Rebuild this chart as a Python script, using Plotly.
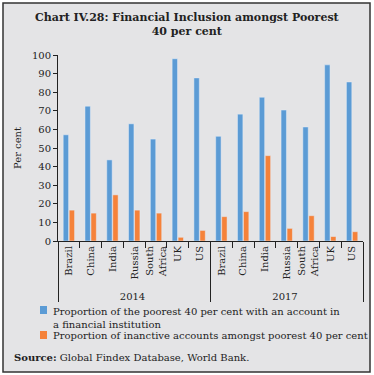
import plotly.graph_objects as go

years = ["2014"] * 7 + ["2017"] * 7
countries = ["Brazil", "China", "India", "Russia", "South<br>Africa", "UK", "US"] * 2
account = [57.1, 72.5, 43.6, 63.0, 54.8, 98.0, 87.7,
           56.3, 68.2, 77.3, 70.4, 61.3, 94.7, 85.5]
inactive = [16.6, 15.0, 24.8, 16.6, 15.0, 2.0, 5.7,
            13.1, 15.8, 45.9, 6.8, 13.6, 2.4, 5.0]
series_names = ["Proportion of the poorest 40 per cent with an account in<br>a financial institution",
                "Proportion of inanctive accounts amongst poorest 40 per cent"]
y_ticks = list(range(0, 101, 10))

BLUE = "#5B9BD5"
ORANGE = "#F5823A"
BG = "#E4E4E6"
FONT = "DejaVu Serif"
TXT = "#222222"

fig = go.Figure()
fig.add_trace(go.Bar(x=[years, countries], y=account, name=series_names[0],
                     marker_color=BLUE, showlegend=False))
fig.add_trace(go.Bar(x=[years, countries], y=inactive, name=series_names[1],
                     marker_color=ORANGE, showlegend=False))

W, H = 374, 375
L, R, T, B = 58, 11, 55, 134
pw, ph = W - L - R, H - T - B

def px(xp):
    return (xp - L) / pw

def py(yp):
    return (H - B - yp) / ph

fig.update_layout(
    width=W, height=H,
    margin=dict(l=L, r=R, t=T, b=B, autoexpand=False),
    paper_bgcolor="white",
    plot_bgcolor="rgba(0,0,0,0)",
    barmode="group", bargap=0.45, bargroupgap=0.1,
    font=dict(family=FONT, size=10, color=TXT),
    showlegend=False,
    xaxis=dict(type="multicategory", tickangle=-90, showline=True, linecolor="#222", linewidth=1,
               ticks="outside", ticklen=6, tickcolor="#222", showdividers=True,
               dividercolor="#222", dividerwidth=1, automargin=False,
               tickfont=dict(size=10, family=FONT, color=TXT)),
    yaxis=dict(range=[0, 100], tickvals=y_ticks, showline=True, linecolor="#222", linewidth=1,
               ticks="outside", ticklen=4, tickcolor="#222", showgrid=False, zeroline=False,
               automargin=False,
               tickfont=dict(size=10, family=FONT, color=TXT),
               title=dict(text="Per cent", font=dict(size=10, family=FONT, color=TXT), standoff=8)),
)

fig.add_shape(type="rect", xref="paper", yref="paper",
              x0=px(3), x1=px(370), y0=py(372), y1=py(3),
              fillcolor=BG, line=dict(color="#333", width=1.5), layer="below")

# legend (custom, to match small square keys)
legend_rows = [(306, 314, 317.5, BLUE), (331, 339, 335.5, ORANGE)]
for (y0, y1, yt, col), name in zip(legend_rows, series_names):
    fig.add_shape(type="rect", xref="paper", yref="paper",
                  x0=px(40), x1=px(47), y0=py(y1), y1=py(y0),
                  fillcolor=col, line=dict(width=0))
    fig.add_annotation(xref="paper", yref="paper", x=px(51), y=py(yt), xanchor="left", yanchor="middle",
                       text=name, align="left", showarrow=False,
                       font=dict(size=10, family=FONT, color=TXT))

fig.add_annotation(xref="paper", yref="paper", x=px(187), y=py(9), xanchor="center", yanchor="top",
                   text="<b>Chart IV.28: Financial Inclusion amongst Poorest<br>40 per cent</b>",
                   showarrow=False, font=dict(size=11, family=FONT, color=TXT))
fig.add_annotation(xref="paper", yref="paper", x=px(12), y=py(357), xanchor="left", yanchor="middle",
                   text="<b>Source:</b> Global Findex Database, World Bank.",
                   showarrow=False, font=dict(size=10, family=FONT, color=TXT))

fig.write_html("out.html", config={"displayModeBar": False},
               post_script="document.body.style.margin='0';document.body.style.overflow='hidden';")
